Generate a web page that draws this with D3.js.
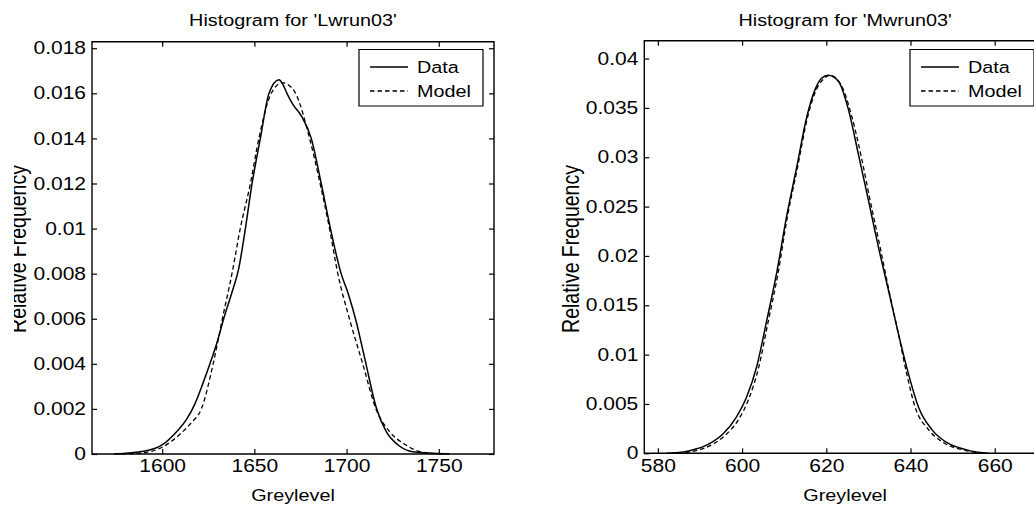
<!DOCTYPE html>
<html>
<head>
<meta charset="utf-8">
<script src="https://cdn.jsdelivr.net/npm/d3@7/dist/d3.min.js"></script>
<style>
  body { margin: 0; background: #fff; }
  text { font-family: "Liberation Sans", Arial, sans-serif; fill: #000; }
</style>
</head>
<body>
<div id="chart"></div>
<script>
// the scanned figure is stretched sideways, so everything is drawn in a group scaled by SX
const SX = 1.2;
const W = 1034, H = 509;

// ---- left panel: 'Lwrun03'
const lwTitle = "Histogram for 'Lwrun03'";
const lwXTicks = [1600, 1650, 1700, 1750];
const lwYTicks = [0, 0.002, 0.004, 0.006, 0.008, 0.01, 0.012, 0.014, 0.016, 0.018];
const lwDataX = [1574, 1590, 1600, 1608, 1613, 1617.7, 1622, 1626.8, 1630, 1633.4, 1638, 1641.5, 1644.8, 1648.8,
  1653.3, 1658, 1663.4, 1665.5, 1667.7, 1671, 1675.5, 1680.9, 1686.3, 1691.3, 1697.1, 1701, 1705.2, 1707.8,
  1710.3, 1716, 1721.5, 1728, 1736, 1756];
const lwDataY = [0, 0.00012, 0.0004, 0.001, 0.0015, 0.0022, 0.0031, 0.0042, 0.005, 0.006, 0.0072, 0.0082, 0.0098, 0.012,
  0.014, 0.016, 0.0166, 0.0164, 0.016, 0.0155, 0.015, 0.014, 0.012, 0.01, 0.008, 0.0071, 0.0059, 0.005,
  0.0041, 0.0021, 0.001, 0.0004, 0.0001, 0];
const lwModelX = [1578, 1590, 1600, 1610, 1616, 1621.3, 1627.7, 1632.7, 1637.9, 1642.4, 1647.9, 1652.5, 1659.2,
  1665.2, 1668, 1672.4, 1680, 1685.7, 1690.8, 1695.3, 1701.6, 1708.8, 1716, 1723.3, 1732.3, 1740, 1752];
const lwModelY = [0, 0.00006, 0.0003, 0.0009, 0.0014, 0.002, 0.004, 0.006, 0.008, 0.01, 0.012, 0.014, 0.016,
  0.01647, 0.0164, 0.016, 0.014, 0.012, 0.01, 0.008, 0.006, 0.004, 0.002, 0.001, 0.0004, 0.0001, 0];

// ---- right panel: 'Mwrun03'
const mwTitle = "Histogram for 'Mwrun03'";
const mwXTicks = [580, 600, 620, 640, 660];
const mwYTicks = [0, 0.005, 0.01, 0.015, 0.02, 0.025, 0.03, 0.035, 0.04];
const mwDataX = [582, 584.5, 587.6, 592.4, 595.6, 598.7, 601.1, 603.5, 605.9, 608.2, 610.6, 613, 615.4, 617.3,
  618.9, 620.5, 622.9, 625.3, 627.6, 630, 632.4, 634.8, 637.1, 639.5, 641.9, 645.1, 649, 653, 655.3, 658.5];
const mwDataY = [0, 0.00005, 0.00026, 0.001, 0.002, 0.0037, 0.0057, 0.0088, 0.0135, 0.0182, 0.024, 0.029, 0.0341, 0.0368,
  0.038, 0.0383, 0.0377, 0.0348, 0.0304, 0.0257, 0.0209, 0.0165, 0.0122, 0.0081, 0.0047, 0.0024, 0.001, 0.0004, 0.00016, 0];
const mwModelX = [583, 588.5, 593, 596.2, 599.3, 601.6, 603.9, 606.2, 608.5, 610.8, 613.2, 615.6, 617.6, 619.3,
  620.9, 623.7, 626.1, 628.5, 630.4, 632.8, 634.9, 637.1, 639.1, 641.1, 644.3, 648.2, 653, 657];
const mwModelY = [0, 0.00022, 0.0009, 0.0019, 0.0035, 0.0055, 0.0086, 0.0133, 0.0181, 0.024, 0.029, 0.0341, 0.0368, 0.0379,
  0.0383, 0.0372, 0.0341, 0.0297, 0.0257, 0.0209, 0.0165, 0.0122, 0.0081, 0.0047, 0.0024, 0.001, 0.0003, 0];

const legendLabels = ["Data", "Model"];

// panel geometry in page pixels
const panels = [
  { title: lwTitle, xTicks: lwXTicks, yTicks: lwYTicks, dataX: lwDataX, dataY: lwDataY, modelX: lwModelX, modelY: lwModelY,
    left: 92, right: 494, top: 41.7, bottom: 454, xDomain: [1562, 1780], yDomain: [0, 0.01829],
    legendX: 359, ylabelX: 25.5, clipLabel: 14 },
  { title: mwTitle, xTicks: mwXTicks, yTicks: mwYTicks, dataX: mwDataX, dataY: mwDataY, modelX: mwModelX, modelY: mwModelY,
    left: 644.3, right: 1046, top: 40.7, bottom: 453.3, xDomain: [576.8, 672.2], yDomain: [0, 0.04181],
    legendX: 910, ylabelX: 579, clipLabel: null }
];

const svg = d3.select("#chart").append("svg")
  .attr("width", W)
  .attr("height", H);

const defs = svg.append("defs");
const root = svg.append("g").attr("transform", `scale(${SX},1)`);

panels.forEach((p, i) => drawPanel(p, i));

function drawPanel(p, i) {
  const g = root.append("g");
  const x = d3.scaleLinear().domain(p.xDomain).range([p.left / SX, p.right / SX]);
  const y = d3.scaleLinear().domain(p.yDomain).range([p.bottom, p.top]);
  const tick = 5;

  const bottomAxis = g.append("g").attr("transform", `translate(0,${p.bottom})`)
    .call(d3.axisBottom(x).tickValues(p.xTicks).tickSize(-tick).tickSizeOuter(0).tickPadding(6).tickFormat(d3.format("d")));
  const topAxis = g.append("g").attr("transform", `translate(0,${p.top})`)
    .call(d3.axisTop(x).tickValues(p.xTicks).tickSize(-tick).tickSizeOuter(0).tickFormat(""));
  const leftAxis = g.append("g").attr("transform", `translate(${p.left / SX},0)`)
    .call(d3.axisLeft(y).tickValues(p.yTicks).tickSize(-tick / SX).tickSizeOuter(0).tickPadding(6 / SX).tickFormat(d3.format("~g")));
  const rightAxis = g.append("g").attr("transform", `translate(${p.right / SX},0)`)
    .call(d3.axisRight(y).tickValues(p.yTicks).tickSize(-tick / SX).tickSizeOuter(0).tickFormat(""));

  [bottomAxis, topAxis, leftAxis, rightAxis].forEach(a => {
    a.select(".domain").remove();
    a.selectAll("line").attr("stroke", "#000").attr("stroke-width", 1.2).attr("vector-effect", "non-scaling-stroke");
    a.selectAll("text").attr("font-size", 17.5).attr("font-family", null);
  });

  // axes box
  g.append("rect")
    .attr("x", p.left / SX).attr("y", p.top)
    .attr("width", (p.right - p.left) / SX).attr("height", p.bottom - p.top)
    .attr("fill", "none").attr("stroke", "#000").attr("stroke-width", 1.4)
    .attr("vector-effect", "non-scaling-stroke");

  const line = d3.line().curve(d3.curveMonotoneX).x(d => x(d[0])).y(d => y(d[1]));

  g.append("path")
    .datum(d3.zip(p.modelX, p.modelY))
    .attr("d", line)
    .attr("fill", "none").attr("stroke", "#000").attr("stroke-width", 1.3)
    .attr("stroke-dasharray", "4.5,3")
    .attr("vector-effect", "non-scaling-stroke");

  g.append("path")
    .datum(d3.zip(p.dataX, p.dataY))
    .attr("d", line)
    .attr("fill", "none").attr("stroke", "#000").attr("stroke-width", 1.5)
    .attr("vector-effect", "non-scaling-stroke");

  // title
  g.append("text")
    .attr("x", (p.left + p.right) / 2 / SX).attr("y", 26.5)
    .attr("text-anchor", "middle").attr("font-size", 16.5)
    .text(p.title);

  // x label
  g.append("text")
    .attr("x", (p.left + p.right) / 2 / SX).attr("y", 501)
    .attr("text-anchor", "middle").attr("font-size", 16.5)
    .text("Greylevel");

  // y label (the left one is cut by the page edge in the scan)
  const ylWrap = g.append("g");
  if (p.clipLabel !== null) {
    defs.append("clipPath").attr("id", "clip" + i)
      .append("rect").attr("x", p.clipLabel / SX).attr("y", 0).attr("width", 200).attr("height", H);
    ylWrap.attr("clip-path", `url(#clip${i})`);
  }
  ylWrap.append("text")
    .attr("transform", `translate(${p.ylabelX / SX},249) rotate(-90)`)
    .attr("text-anchor", "middle").attr("font-size", 19.5)
    .text("Relative Frequency");

  // legend
  const lg = g.append("g");
  lg.append("rect")
    .attr("x", p.legendX / SX).attr("y", 49.5)
    .attr("width", 124 / SX).attr("height", 56.5)
    .attr("fill", "#fff").attr("stroke", "#000").attr("stroke-width", 1.2)
    .attr("vector-effect", "non-scaling-stroke");
  legendLabels.forEach((lab, k) => {
    const ly = 67 + k * 24;
    lg.append("line")
      .attr("x1", (p.legendX + 11) / SX).attr("x2", (p.legendX + 49) / SX)
      .attr("y1", ly).attr("y2", ly)
      .attr("stroke", "#000").attr("stroke-width", 1.3)
      .attr("stroke-dasharray", k === 1 ? "4.5,3" : null)
      .attr("vector-effect", "non-scaling-stroke");
    lg.append("text")
      .attr("x", (p.legendX + 58) / SX).attr("y", ly + 6)
      .attr("font-size", 16.5)
      .text(lab);
  });
}
</script>
</body>
</html>
